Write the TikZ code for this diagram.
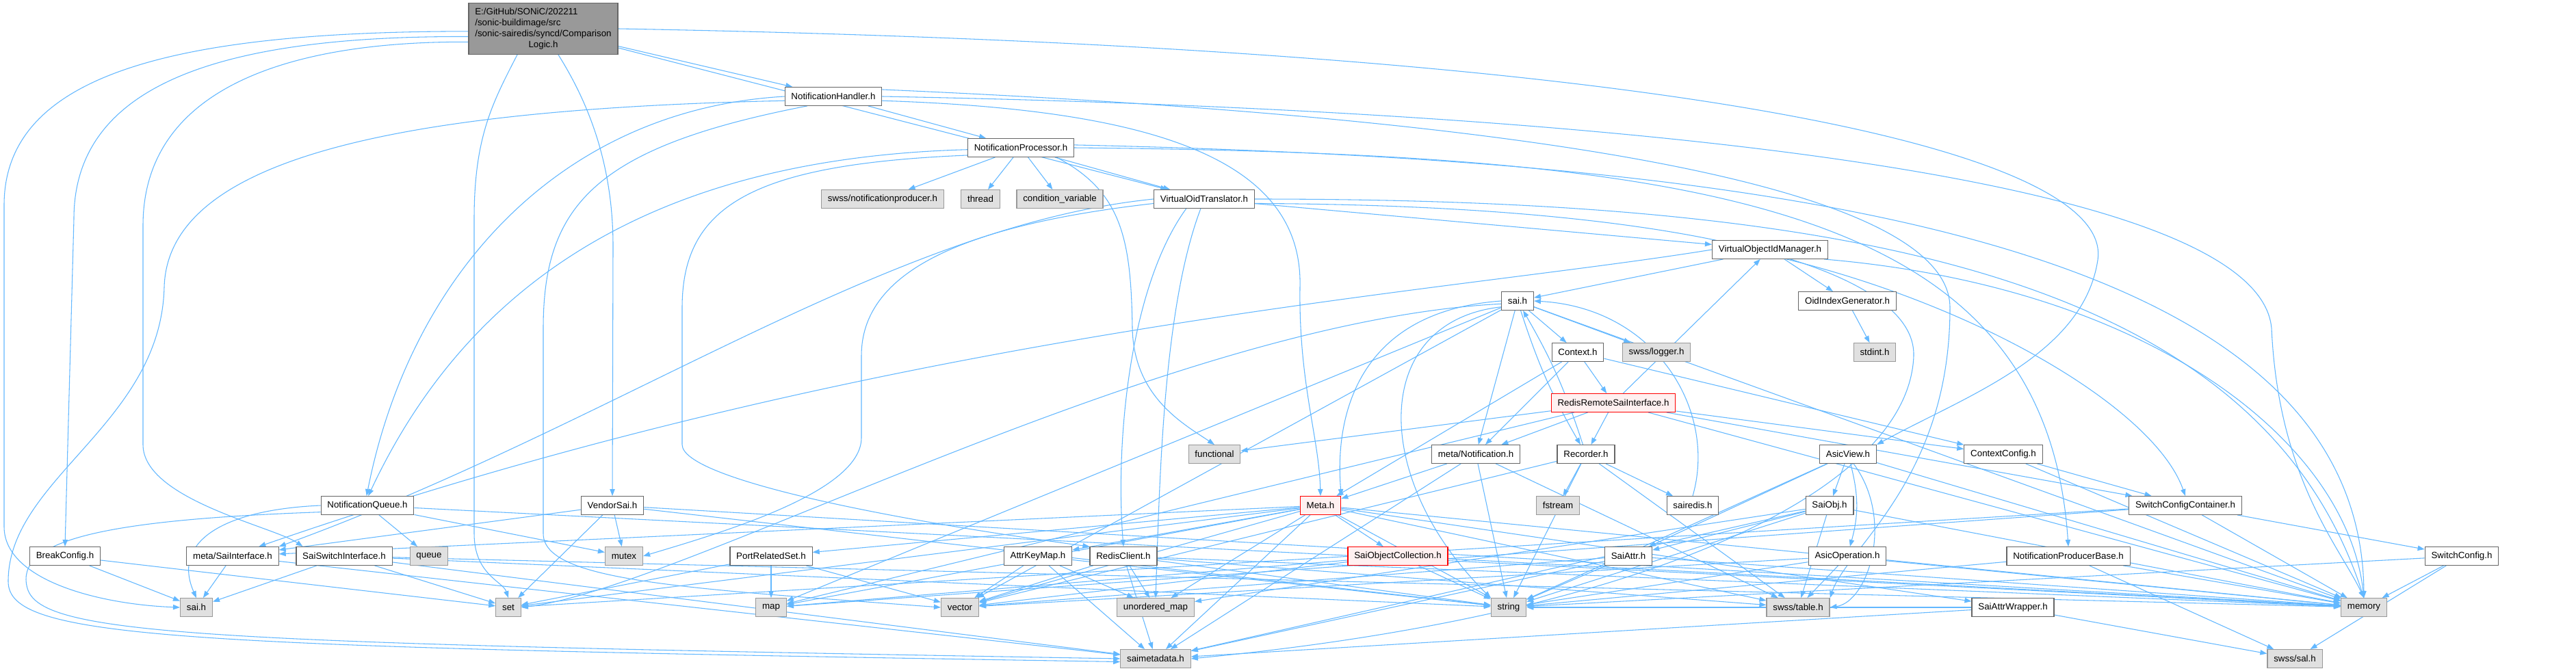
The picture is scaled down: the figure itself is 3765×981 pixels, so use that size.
\documentclass[tikz,border=0pt]{standalone}
\usepackage{fontspec}
\setmainfont{Liberation Sans}
\usetikzlibrary{arrows.meta,backgrounds}

\definecolor{edgeblue}{RGB}{99,184,255}
\definecolor{filegrey}{RGB}{102,102,102}
\definecolor{sysfill}{RGB}{224,224,224}
\definecolor{sysline}{RGB}{153,153,153}
\definecolor{mainfill}{RGB}{153,153,153}
\definecolor{redfill}{RGB}{255,240,240}
\definecolor{redline}{RGB}{255,0,0}

\begin{document}
\begin{tikzpicture}[x=0.75pt,y=-0.75pt,>={Triangle[length=7.5pt,width=5.5pt]},
    hfile/.style={draw=filegrey,fill=white,line width=0.9pt,minimum height=20pt,
      inner xsep=7pt,inner ysep=0pt,font=\fontsize{10}{12}\selectfont},
    sysinc/.style={hfile,draw=sysline,fill=sysfill},
    redhdr/.style={hfile,draw=redline,fill=redfill},
    dep/.style={->,edgeblue,line width=0.8pt}]
    \useasboundingbox (0,0) rectangle (3765,981);

    % top of the graph
    \node[hfile,fill=mainfill,minimum height=56pt] (main) at (794,42) {\begin{tabular}{@{}l@{}}E:/GitHub/SONiC/202211\\/sonic-buildimage/src\\/sonic-sairedis/syncd/Comparison\\\multicolumn{1}{@{}c@{}}{Logic.h}\end{tabular}};
    \node[hfile] (nh) at (1218,141) {NotificationHandler.h};
    \node[hfile] (np) at (1492,216) {NotificationProcessor.h};
    \node[sysinc] (nprod) at (1290,291) {swss/notificationproducer.h};
    \node[sysinc] (thread) at (1433,291) {thread};
    \node[sysinc] (condvar) at (1549,291) {condition\_variable};
    \node[hfile] (vot) at (1760,291) {VirtualOidTranslator.h};
    \node[hfile] (voim) at (2587,365) {VirtualObjectIdManager.h};
    \node[hfile] (saih) at (2218,440) {sai.h};
    \node[hfile] (oig) at (2700,440) {OidIndexGenerator.h};
    \node[hfile] (ctx) at (2306,515) {Context.h};
    \node[sysinc] (logger) at (2421,515) {swss/logger.h};
    \node[sysinc] (stdint) at (2740,515) {stdint.h};
    \node[redhdr] (rrsi) at (2358,589) {RedisRemoteSaiInterface.h};

    % middle
    \node[hfile] (notif) at (2157,664) {meta/Notification.h};
    \node[hfile] (rec) at (2318,664) {Recorder.h};
    \node[hfile] (asicview) at (2701,664) {AsicView.h};
    \node[sysinc] (functional) at (1775,664) {functional};
    \node[hfile] (ctxcfg) at (2928,664) {ContextConfig.h};
    \node[hfile] (nq) at (537,739) {NotificationQueue.h};
    \node[hfile] (vendor) at (895,739) {VendorSai.h};
    \node[redhdr] (meta) at (1930,739) {Meta.h};
    \node[sysinc] (fstream) at (2277,739) {fstream};
    \node[hfile] (sairedis) at (2474,739) {sairedis.h};
    \node[hfile] (saiobj) at (2674,739) {SaiObj.h};
    \node[hfile] (scc) at (3194,739) {SwitchConfigContainer.h};
    \node[hfile] (brk) at (95,813) {BreakConfig.h};
    \node[hfile] (msi) at (340,813) {meta/SaiInterface.h};
    \node[hfile] (ssi) at (503,813) {SaiSwitchInterface.h};
    \node[sysinc] (queue) at (627,813) {queue};
    \node[sysinc] (mutex) at (912,813) {mutex};
    \node[hfile] (prs) at (1127,813) {PortRelatedSet.h};
    \node[hfile] (akm) at (1517,813) {AttrKeyMap.h};
    \node[hfile] (rc) at (1642,813) {RedisClient.h};
    \node[redhdr] (soc) at (2043,813) {SaiObjectCollection.h};
    \node[hfile] (saiattr) at (2380,813) {SaiAttr.h};
    \node[hfile] (asicop) at (2700,813) {AsicOperation.h};
    \node[hfile] (npb) at (3023,813) {NotificationProducerBase.h};
    \node[hfile] (swcfg) at (3598,813) {SwitchConfig.h};

    % bottom rows
    \node[sysinc] (saih2) at (287,888) {sai.h};
    \node[sysinc] (set) at (743,888) {set};
    \node[sysinc] (map) at (1127,888) {map};
    \node[sysinc] (vector) at (1403,888) {vector};
    \node[sysinc] (umap) at (1689,888) {unordered\_map};
    \node[sysinc] (string) at (2205,888) {string};
    \node[sysinc] (table) at (2628,888) {swss/table.h};
    \node[hfile] (saw) at (2942,888) {SaiAttrWrapper.h};
    \node[sysinc] (memory) at (3455,888) {memory};
    \node[sysinc] (saimeta) at (1689,963) {saimetadata.h};
    \node[sysinc] (sal) at (3354,963) {swss/sal.h};

    \begin{scope}[on background layer]
    \fill[white] (0,0) rectangle (3765,981);

    % includes of the main file
    \draw[dep] (main.182) .. controls (250,46) and (6,110) .. (6,300) -- (6,770) .. controls (6,850) and (150,884) .. (saih2.west);
    \draw[dep] (main.186) .. controls (330,52) and (108,120) .. (108,320) -- (brk.north);
    \draw[dep] (main.190) .. controls (420,60) and (209,130) .. (209,330) -- (209,650) .. controls (209,730) and (400,770) .. (ssi.167);
    \draw[dep] (main.225) .. controls (720,150) and (693,200) .. (693,320) -- (693,780) .. controls (693,840) and (735,850) .. (set.north);
    \draw[dep] (main.300) .. controls (860,150) and (896,240) .. (896,360) -- (vendor.north);
    \path[dep] (main) edge (nh) edge (vot);
    \draw[dep] (main.east) .. controls (2450,70) and (3090,220) .. (3066,380) .. controls (3045,520) and (2870,580) .. (asicview.north east);

    % NotificationHandler.h
    \path[dep] (nh) edge (np);
    \draw[dep] (nh.west) .. controls (820,160) and (600,400) .. (nq.95);
    \draw[dep] (nh.185) .. controls (550,160) and (245,240) .. (240,420) .. controls (235,620) and (12,700) .. (12,850) .. controls (12,935) and (250,945) .. (saimeta.185);
    \draw[dep] (nh.200) .. controls (870,215) and (794,300) .. (794,480) -- (794,780) .. controls (794,850) and (1000,860) .. (vector.west);
    \draw[dep] (nh.east) .. controls (2300,160) and (3300,250) .. (3320,480) .. controls (3330,700) and (3420,800) .. (memory.north);
    \draw[dep] (nh.8) .. controls (2300,175) and (2850,280) .. (2850,450) .. controls (2850,700) and (2700,800) .. (table.north east);
    \draw[dep] (nh.-5) .. controls (1680,160) and (1905,230) .. (1900,420) .. controls (1898,560) and (1928,640) .. (meta.north);

    % NotificationProcessor.h
    \path[dep] (np) edge (nprod) edge (thread) edge (condvar) edge (vot);
    \draw[dep] (np.188) .. controls (1100,240) and (997,300) .. (997,450) -- (997,650) .. controls (997,700) and (1300,760) .. (rc.north west);
    \draw[dep] (np.182) .. controls (1000,230) and (700,380) .. (nq.85);
    \draw[dep] (np.-15) .. controls (1640,280) and (1653,350) .. (1655,480) .. controls (1657,580) and (1730,620) .. (functional.north);
    \draw[dep] (np.east) .. controls (2500,225) and (2990,300) .. (npb.north);
    \draw[dep] (np.3) .. controls (2600,235) and (3450,350) .. (memory.north);

    % VirtualOidTranslator.h
    \path[dep] (vot) edge (voim);
    \draw[dep] (vot.208) .. controls (1650,420) and (1630,650) .. (rc.north);
    \draw[dep] (vot.250) .. controls (1700,450) and (1695,700) .. (umap.north);
    \draw[dep] (vot.west) .. controls (1300,330) and (900,620) .. (msi.north east);
    \draw[dep] (vot.185) .. controls (1400,330) and (1259,400) .. (1259,520) -- (1259,640) .. controls (1259,720) and (1050,780) .. (mutex.east);
    \draw[dep] (vot.east) .. controls (2700,291) and (3300,400) .. (memory.north);
    \draw[dep] (vot.-5) .. controls (2500,300) and (2800,400) .. (2797,520) .. controls (2790,720) and (2400,900) .. (saimeta.east);

    % VirtualObjectIdManager.h
    \path[dep] (voim) edge (saih) edge (oig);
    \draw[dep] (voim.west) .. controls (2100,430) and (1300,480) .. (msi.20);
    \draw[dep] (voim.-30) .. controls (2900,450) and (3150,600) .. (scc.north);
    \draw[dep] (voim.-10) .. controls (3150,420) and (3430,650) .. (memory.north);

    % sai.h
    \path[dep] (saih) edge (ctx) edge (logger) edge[bend right=6] (rec) edge (notif) edge (vector) edge (map) edge (memory);
    \draw[dep] (saih.west) .. controls (1990,455) and (1950,600) .. (meta.north east);
    \draw[dep] (saih.200) .. controls (2003,470) and (2003,700) .. (string.north west);
    \draw[dep] (saih.190) .. controls (1700,470) and (1000,860) .. (set.east);

    % Context.h, RedisRemoteSaiInterface.h
    \path[dep] (ctx) edge (ctxcfg) edge (rrsi) edge (notif) edge (meta);
    \path[dep] (rrsi) edge (voim) edge (rec) edge (notif) edge (functional) edge (ctxcfg) edge (scc) edge (memory) edge (map);

    % meta/Notification.h, Recorder.h, sairedis.h
    \path[dep] (notif) edge (meta) edge (string) edge (table) edge (saimeta);
    \path[dep] (rec) edge[bend right=6] (saih) edge (fstream) edge (sairedis) edge (string) edge (table) edge (vector);
    \draw[dep] (sairedis.north) .. controls (2510,600) and (2420,450) .. (saih.east);

    % AsicView.h and its parts
    \path[dep] (asicview) edge (saiobj) edge[bend left=15] (asicop) edge (saiattr) edge (memory) edge (string);
    \draw[dep] (asicview.-60) .. controls (2770,760) and (2730,880) .. (table.east);
    \path[dep] (saiobj) edge (saiattr) edge (string) edge (table) edge (memory) edge (saimeta) edge (umap);
    \path[dep] (saiattr) edge (string) edge (saimeta) edge (memory) edge (vector);
    \path[dep] (asicop) edge (table) edge (string) edge (memory) edge (vector);

    % Meta.h
    \path[dep] (meta) edge (soc) edge (prs) edge (akm) edge (msi) edge (saw) edge (string) edge (vector) edge (map) edge (set) edge (umap) edge (memory) edge (table) edge (saimeta);
    \path[dep] (soc) edge (string) edge (memory) edge (map) edge (vector);
    \path[dep] (prs) edge (map) edge (vector) edge (set);
    \path[dep] (akm) edge (vector) edge (umap) edge (saimeta) edge (string);
    \path[dep] (rc) edge (vector) edge (umap) edge (saimeta) edge (string) edge (memory) edge (table);

    % right side
    \path[dep] (scc) edge (swcfg) edge (memory) edge (set) edge (map);
    \path[dep] (swcfg) edge (memory) edge (sal) edge (string);
    \path[dep] (ctxcfg) edge (scc) edge (memory);
    \path[dep] (npb) edge (sal) edge (string) edge (memory);
    \path[dep] (saw) edge (sal) edge (saimeta) edge (string);
    \path[dep] (oig) edge (stdint);

    % left side
    \path[dep] (nq) edge (queue) edge (mutex) edge (memory);
    \draw[dep] (nq.west) .. controls (330,745) and (250,790) .. (saih2.north);
    \draw[dep] (nq.188) .. controls (150,760) and (20,790) .. (40,860) .. controls (60,930) and (300,940) .. (saimeta.west);
    \path[dep] (vendor) edge (msi) edge (mutex) edge (memory) edge (set) edge (string);
    \path[dep] (msi) edge (saih2) edge (saimeta);
    \path[dep] (ssi) edge (saih2) edge (set) edge (saimeta) edge (memory) edge (string);
    \path[dep] (brk) edge (saih2) edge (set);
    \end{scope}
\end{tikzpicture}
\end{document}
